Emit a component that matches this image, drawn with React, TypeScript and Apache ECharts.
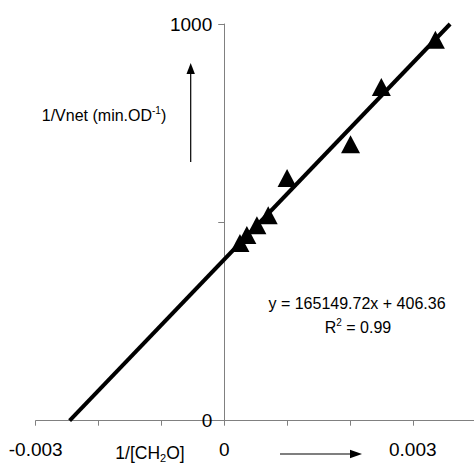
import React, { useEffect, useRef } from "react";
import * as echarts from "echarts";

const xValues = [0.00025, 0.00036, 0.00052, 0.0007, 0.001, 0.00201, 0.0025, 0.00336];
const yValues = [448, 468, 493, 518, 612, 697, 841, 960];
const slope = 165149.72;
const intercept = 406.36;
const xTickLabels = [-0.003, 0, 0.003];
const yTickLabels = [0, 1000];
const equationText = "y = 165149.72x + 406.36";

export default function App() {
  const ref = useRef<HTMLDivElement>(null);
  useEffect(() => {
    if (!ref.current) return;
    const chart = echarts.init(ref.current, null, { renderer: "svg" });
    const font = "Liberation Sans, Arial, sans-serif";
    const xMin = -0.003;
    const xMax = 0.004;
    const yMin = 0;
    const yMax = 1000;
    const gridLeft = 35.7;
    const gridRight = -1.6;
    const plotW = 474 - gridLeft - gridRight;
    const yAxisOffset = -((0 - xMin) / (xMax - xMin)) * plotW;
    const lineData = [
      [(yMin - intercept) / slope, yMin],
      [(yMax - intercept) / slope, yMax],
    ];
    const near = (v: number, arr: number[]) => arr.some((a) => Math.abs(a - v) < 1e-9);
    chart.setOption({
      animation: false,
      backgroundColor: "#ffffff",
      grid: {
        left: gridLeft,
        right: gridRight,
        top: 24,
        bottom: 43.3,
        containLabel: false,
        outerBoundsMode: "none",
      },
      xAxis: {
        type: "value",
        min: xMin,
        max: xMax,
        interval: 0.001,
        splitLine: { show: false },
        axisLine: { lineStyle: { color: "#808080", width: 1 } },
        axisTick: { show: true, length: 5, lineStyle: { color: "#808080" } },
        axisLabel: {
          fontFamily: font,
          fontSize: 19,
          color: "#000",
          margin: 19,
          showMinLabel: true,
          showMaxLabel: true,
          formatter: (v: number) =>
            near(v, xTickLabels) ? (Math.abs(v) < 1e-12 ? "0" : String(Number(v.toFixed(3)))) : "",
        },
      },
      yAxis: {
        type: "value",
        min: yMin,
        max: yMax,
        interval: 500,
        offset: yAxisOffset,
        splitLine: { show: false },
        axisLine: { show: true, onZero: false, lineStyle: { color: "#808080", width: 1 } },
        axisTick: { show: true, length: 6, lineStyle: { color: "#808080" } },
        axisLabel: {
          fontFamily: font,
          fontSize: 19,
          color: "#000",
          margin: 12,
          formatter: (v: number) => (near(v, yTickLabels) ? String(v) : ""),
        },
      },
      series: [
        {
          type: "line",
          data: lineData,
          symbol: "none",
          lineStyle: { color: "#000", width: 4 },
          z: 2,
        },
        {
          type: "scatter",
          data: xValues.map((x, i) => [x, yValues[i]]),
          symbol: "triangle",
          symbolSize: [19, 18],
          itemStyle: { color: "#000", opacity: 1 },
          z: 3,
        },
      ],
      graphic: [
        {
          type: "text",
          x: 104,
          y: 115,
          style: {
            text: "{a|1/Vnet (min.OD}{sup|-1}{a|)}",
            fontFamily: font,
            align: "center",
            verticalAlign: "middle",
            rich: {
              a: { fontFamily: font, fontSize: 16, color: "#000", lineHeight: 20 },
              sup: { fontFamily: font, fontSize: 10, color: "#000", verticalAlign: "top", lineHeight: 20, padding: [0, 0, 6, 0] },
            },
          },
        },
        {
          type: "text",
          x: 150,
          y: 453,
          style: {
            text: "{a|1/[CH}{sub|2}{a|O]}",
            fontFamily: font,
            align: "center",
            verticalAlign: "middle",
            rich: {
              a: { fontFamily: font, fontSize: 17.5, color: "#000", lineHeight: 20 },
              sub: { fontFamily: font, fontSize: 11, color: "#000", verticalAlign: "bottom", lineHeight: 20, padding: [8, 0, 0, 0] },
            },
          },
        },
        {
          type: "text",
          x: 357,
          y: 303,
          style: {
            text: equationText,
            fontFamily: font,
            fontSize: 16,
            fill: "#000",
            align: "center",
            verticalAlign: "middle",
          },
        },
        {
          type: "text",
          x: 358,
          y: 327,
          style: {
            text: "{a|R}{sup|2}{a| = 0.99}",
            fontFamily: font,
            align: "center",
            verticalAlign: "middle",
            rich: {
              a: { fontFamily: font, fontSize: 16, color: "#000", lineHeight: 20 },
              sup: { fontFamily: font, fontSize: 10, color: "#000", verticalAlign: "top", lineHeight: 20, padding: [0, 0, 6, 0] },
            },
          },
        },
        {
          type: "line",
          shape: { x1: 190.7, y1: 162, x2: 190.7, y2: 72 },
          style: { stroke: "#000", lineWidth: 1.2 },
        },
        {
          type: "polygon",
          shape: { points: [[190.7, 63], [186.5, 74], [194.9, 74]] },
          style: { fill: "#000" },
        },
        {
          type: "line",
          shape: { x1: 280, y1: 454, x2: 352, y2: 454 },
          style: { stroke: "#000", lineWidth: 1.2 },
        },
        {
          type: "polygon",
          shape: { points: [[362, 454], [350, 449.8], [350, 458.2]] },
          style: { fill: "#000" },
        },
      ],
    });
    return () => chart.dispose();
  }, []);
  return <div ref={ref} style={{ width: 474, height: 464, position: "absolute", left: 0, top: 0 }} />;
}
